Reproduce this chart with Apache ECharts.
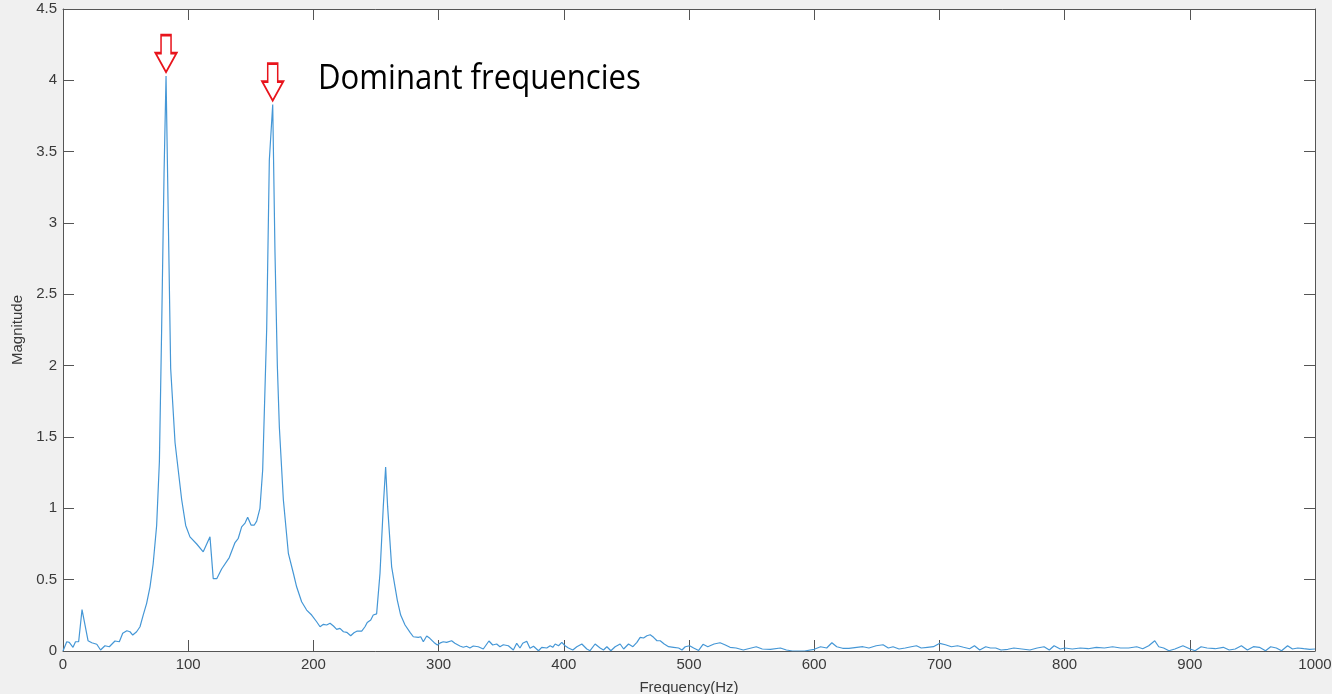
<!DOCTYPE html>
<html>
<head>
<meta charset="utf-8">
<script src="https://cdn.jsdelivr.net/npm/echarts@6/dist/echarts.min.js"></script>
<style>
html,body{margin:0;padding:0;background:#f0f0f0;}
#c{width:1332px;height:694px;}
</style>
</head>
<body>
<div id="c"></div>
<script>
// Frequency (Hz) samples
const freqs = [
0,3,5,8,10,12.5,15.2,20,23,27,30,33.5,37,41.5,45,47.7,51,53.5,55.7,58.8,
61.5,64,66.8,69.5,72,74.8,77,78.8,80.7,82.3,86,89.5,94.8,98,101.4,106.8,112,117.4,120,122.8,
126.7,132.8,137.4,140,142.7,145.4,147.5,150.2,152.8,154.7,157.3,159.5,162.7,164.8,167.5,169.3,171.2,172.8,176,180,
184,186.6,190.6,194.6,198.6,202.6,205.3,208,210.6,213.3,216,218.6,221.2,224,226.6,229.8,232.4,235,238.6,241.2,
243,245.8,247.8,250.5,253.2,255.8,257.7,259.3,262.5,265.2,267,269.7,273.2,277.2,279.8,283.8,285.7,287.8,290.5,293,
296.3,299,301,303.7,306.4,310.4,313,317,319.7,322.3,325,327.7,331.7,335.7,340.2,343.2,346.4,349,351.7,355.7,
359.7,362.4,365,367.2,370.4,373,375.8,379.8,382.4,386.4,389.1,391.2,393.1,395.8,398.4,401,403.7,407.2,410.4,414.4,
418.4,421,425,429,431.7,434.4,437.6,441,445,447.8,451.7,455.2,458.4,461,463.7,466.4,469,471.7,474.4,477,
480.2,483.7,487.7,491.7,494.4,497,500.5,503.7,507.7,511.2,515,520,524.8,528.6,532.8,537.6,543.4,547.3,553.7,558.5,
565,573,577.8,582.6,592.3,600,605.1,610,614.1,618,622.8,627.7,634,638.9,643.7,649.5,655,659.2,663,667.8,
672.7,677.5,681.7,685.5,690.4,695.2,700.3,704.8,709.6,714.5,719.3,724.1,728,732.2,737,740.8,745,749.2,754.7,759.5,
765.9,772.3,778.1,783.6,787.8,791.6,796.5,800.3,806.1,812.5,818.9,825.4,831.8,838.3,844.7,851.1,857.6,862.4,867.2,872,
875.2,879.1,883.3,888.1,894.5,900.3,904.2,909,913.8,920.3,926.7,931.5,936.3,941.2,946,950.8,955.6,960.5,964.6,969.1,
973.3,978.1,982,986.2,991,995.8,1000
];
// Magnitude values
const magnitudes = [
0,0.065,0.06,0.026,0.065,0.065,0.29,0.072,0.058,0.047,0.007,0.037,0.03,0.07,0.065,0.124,0.142,0.135,0.112,0.135,
0.17,0.25,0.334,0.45,0.61,0.88,1.33,2.26,3.34,4.03,1.98,1.46,1.06,0.88,0.8,0.75,0.695,0.8,0.507,0.507,
0.575,0.655,0.76,0.79,0.87,0.897,0.937,0.883,0.883,0.91,1.0,1.27,2.26,3.44,3.83,2.8,2.0,1.57,1.06,0.685,
0.545,0.45,0.345,0.287,0.252,0.205,0.17,0.187,0.182,0.194,0.175,0.152,0.159,0.135,0.131,0.107,0.128,0.14,0.14,0.17,
0.2,0.217,0.252,0.26,0.545,1.01,1.29,1.01,0.59,0.45,0.357,0.252,0.182,0.131,0.1,0.096,0.1,0.065,0.105,0.089,
0.06,0.042,0.055,0.065,0.06,0.072,0.054,0.035,0.026,0.033,0.021,0.035,0.03,0.014,0.07,0.042,0.049,0.03,0.044,0.037,
0.007,0.054,0.021,0.054,0.068,0.019,0.033,0.002,0.026,0.021,0.037,0.026,0.049,0.037,0.061,0.037,0.021,0.007,0.03,0.049,
0.014,0.002,0.049,0.021,0.007,0.03,0.002,0.03,0.049,0.014,0.049,0.03,0.061,0.096,0.091,0.107,0.114,0.096,0.072,0.072,
0.049,0.03,0.026,0.021,0.007,0.03,0.037,0.021,0.004,0.047,0.03,0.049,0.058,0.044,0.026,0.021,0.007,0.016,0.03,0.014,
0.012,0.021,0.007,0.0,0.0,0.012,0.03,0.021,0.058,0.03,0.019,0.019,0.026,0.03,0.021,0.037,0.044,0.021,0.03,0.014,
0.021,0.03,0.037,0.021,0.026,0.03,0.054,0.044,0.03,0.037,0.026,0.016,0.037,0.007,0.03,0.021,0.021,0.007,0.012,0.021,
0.014,0.007,0.021,0.03,0.007,0.037,0.014,0.021,0.014,0.021,0.016,0.026,0.021,0.03,0.021,0.021,0.03,0.016,0.037,0.072,
0.03,0.021,0.002,0.014,0.037,0.014,0.002,0.03,0.021,0.016,0.026,0.007,0.014,0.037,0.007,0.03,0.026,0.002,0.03,0.021,
0.002,0.037,0.014,0.021,0.016,0.012,0.014
];
const xTicks = [0,100,200,300,400,500,600,700,800,900,1000];
const yTicks = [0,0.5,1,1.5,2,2.5,3,3.5,4,4.5];
const peakFreqs = [82.3, 167.5];
const peakMags = [4.03, 3.83];
const annotation = 'Dominant frequencies';

const points = freqs.map((f, i) => [f, magnitudes[i]]);
const arrowPath = 'path://M5.5,0 L15.5,0 L15.5,18 L21,18 L10.5,37 L0,18 L5.5,18 Z';

const chart = echarts.init(document.getElementById('c'), null, {renderer: 'canvas'});
const axisColor = '#555555';
const labelColor = '#3a3a3a';
const font = 'Liberation Sans, Arial, sans-serif';
const plain = v => String(v);
const tickLen = 11;

chart.setOption({
  backgroundColor: '#f0f0f0',
  animation: false,
  grid: {left: 63, right: 17, top: 9, bottom: 43, show: true, backgroundColor: '#ffffff', borderWidth: 0,
         containLabel: false, outerBoundsMode: 'none'},
  xAxis: [{
    type: 'value', min: xTicks[0], max: xTicks[xTicks.length-1], interval: 100,
    name: 'Frequency(Hz)', nameLocation: 'middle', nameGap: 29,
    nameTextStyle: {color: labelColor, fontSize: 15, fontFamily: font},
    axisLine: {show: true, onZero: false, lineStyle: {color: axisColor, width: 1}},
    axisTick: {show: true, inside: true, length: tickLen, lineStyle: {color: axisColor}},
    axisLabel: {color: labelColor, fontSize: 15, fontFamily: font, margin: 6, formatter: plain},
    splitLine: {show: false}
  }, {
    type: 'value', position: 'top', min: xTicks[0], max: xTicks[xTicks.length-1], interval: 100,
    axisLine: {show: true, onZero: false, lineStyle: {color: axisColor, width: 1}},
    axisTick: {show: true, inside: true, length: tickLen, lineStyle: {color: axisColor}},
    axisLabel: {show: false}, splitLine: {show: false}
  }],
  yAxis: [{
    type: 'value', min: yTicks[0], max: yTicks[yTicks.length-1], interval: 0.5,
    name: 'Magnitude', nameLocation: 'middle', nameGap: 28,
    nameTextStyle: {color: labelColor, fontSize: 15, fontFamily: font},
    axisLine: {show: true, onZero: false, lineStyle: {color: axisColor, width: 1}},
    axisTick: {show: true, inside: true, length: tickLen, lineStyle: {color: axisColor}},
    axisLabel: {color: labelColor, fontSize: 15, fontFamily: font, margin: 6, formatter: plain},
    splitLine: {show: false}
  }, {
    type: 'value', position: 'right', min: yTicks[0], max: yTicks[yTicks.length-1], interval: 0.5,
    axisLine: {show: true, onZero: false, lineStyle: {color: axisColor, width: 1}},
    axisTick: {show: true, inside: true, length: tickLen, lineStyle: {color: axisColor}},
    axisLabel: {show: false}, splitLine: {show: false}
  }],
  series: [{
    type: 'line', data: points, showSymbol: false, symbol: 'none',
    lineStyle: {color: '#4597d6', width: 1.2},
    markPoint: {
      symbol: arrowPath, symbolSize: [21, 37], symbolKeepAspect: false,
      symbolOffset: [0, -22.5],
      itemStyle: {color: 'rgba(0,0,0,0)', borderColor: '#e8141c', borderWidth: 2},
      label: {show: false},
      data: peakFreqs.map((f, i) => ({coord: [f, peakMags[i]]}))
    }
  }],
  graphic: [{
    type: 'text', left: 318, top: 62, scaleX: 0.915,
    style: {text: annotation, fill: '#000000', font: '34px "Open Sans", sans-serif'}
  }]
});
</script>
</body>
</html>
